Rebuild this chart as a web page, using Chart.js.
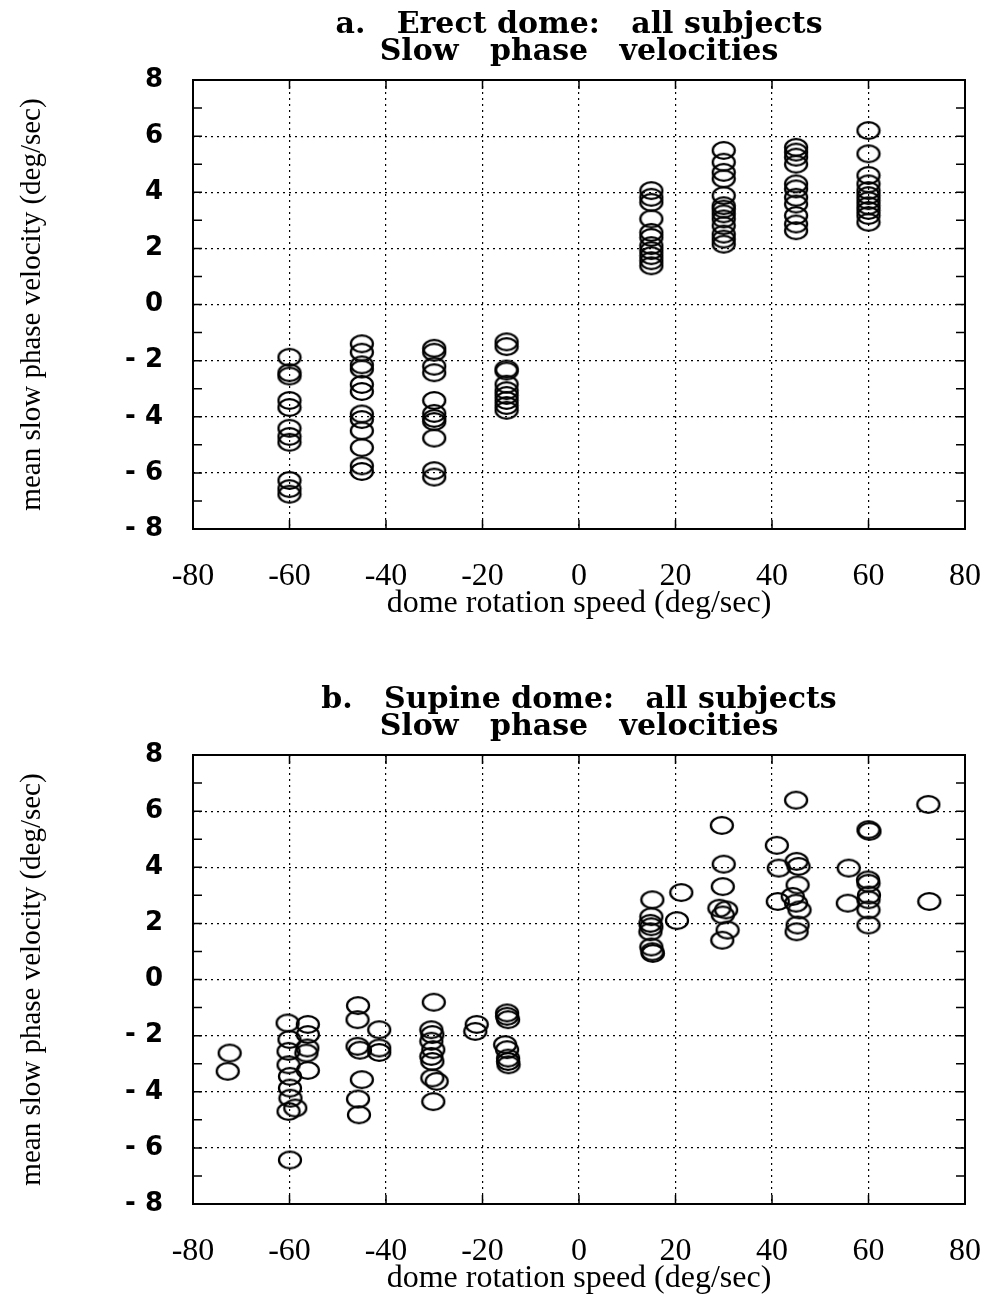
<!DOCTYPE html>
<html>
<head>
<meta charset="utf-8">
<script src="https://cdn.jsdelivr.net/npm/chart.js@4.4.0/dist/chart.umd.min.js"></script>
<style>
  html, body { margin: 0; background: #fff; overflow: hidden; }
  canvas { position: absolute; left: 0; }
  #erect { top: 0; }
  #supine { top: 675px; }
</style>
</head>
<body>
<canvas id="erect" width="1009" height="620"></canvas>
<canvas id="supine" width="1009" height="620"></canvas>
<script>
// erect dome: one column of subjects per rotation speed
const speeds = [-60, -45, -30, -15, 15, 30, 45, 60];
const erectM60 = [-1.88, -2.43, -2.55, -3.42, -3.67, -4.41, -4.70, -4.91, -6.27, -6.56, -6.76];
const erectM45 = [-1.4, -1.7, -2.15, -2.3, -2.85, -3.1, -3.9, -4.1, -4.5, -5.1, -5.75, -5.95];
const erectM30 = [-1.56, -1.7, -2.2, -2.43, -3.42, -3.88, -4.06, -4.17, -4.76, -5.92, -6.15];
const erectM15 = [-1.33, -1.5, -2.3, -2.37, -2.84, -3.07, -3.24, -3.42, -3.6, -3.77];
const erectP15 = [4.06, 3.82, 3.64, 3.05, 2.57, 2.39, 2.1, 1.92, 1.74, 1.56, 1.38];
const erectP30 = [5.49, 5.07, 4.71, 4.48, 3.88, 3.52, 3.4, 3.23, 3.05, 2.81, 2.51, 2.33, 2.15];
const erectP45 = [5.6, 5.43, 5.25, 5.0, 4.3, 4.12, 3.82, 3.58, 3.17, 2.87, 2.63];
const erectP60 = [6.2, 5.37, 4.6, 4.3, 4.06, 3.88, 3.7, 3.52, 3.35, 3.17, 2.93];

// supine dome: speeds are not exactly on the nominal values
const supineSpeed = [
  -72.4, -72.8,
  -60.4, -60, -60.2, -60.2, -59.9, -59.9, -59.8, -60.2, -58.8, -59.9,
  -56.2, -56.2, -56.3, -56.5, -56.2,
  -45.8, -45.9, -45.9, -45.4, -45, -45.8, -45.6,
  -41.4, -41.4, -41.4,
  -30.1, -30.6, -30.4, -30.6, -30.2, -30.6, -30.4, -30.4, -29.5, -30.2,
  -21.2, -21.5,
  -14.9, -14.9, -14.7, -15.3, -14.9, -14.7, -14.7, -14.6,
  15.2, 15, 14.8, 15, 14.8, 15, 15.2, 15.3,
  21.2, 20.3,
  29.6, 30, 29.8, 29.1, 30.5, 29.8, 30.8, 29.7,
  41, 41.4, 41.2,
  45, 45.1, 45.5, 45.3, 44.3, 45, 45.7, 45.3, 45.1,
  55.9, 55.7,
  60, 60.2, 59.9, 60, 60.1, 60, 60, 60,
  72.4, 72.6
];
const supineVel = [
  -2.62, -3.27,
  -1.55, -2.14, -2.56, -3.04, -3.45, -3.87, -4.23, -4.7, -4.58, -6.43,
  -1.6, -1.96, -2.44, -2.62, -3.24,
  -0.93, -1.43, -2.38, -2.52, -3.57, -4.26, -4.82,
  -1.79, -2.44, -2.6,
  -0.81, -1.79, -1.96, -2.2, -2.5, -2.74, -2.92, -3.51, -3.63, -4.35,
  -1.6, -1.85,
  -1.19, -1.31, -1.43, -2.32, -2.5, -2.8, -2.92, -3.04,
  2.84, 2.24, 2.0, 1.88, 1.7, 1.16, 0.99, 0.93,
  3.1, 2.1,
  5.49, 4.11, 3.31, 2.54, 2.48, 2.3, 1.76, 1.4,
  4.78, 3.97, 2.78,
  6.39, 4.21, 4.03, 3.37, 2.96, 2.72, 2.48, 1.94, 1.7,
  3.97, 2.72,
  5.34, 5.28, 3.55, 3.43, 3.01, 2.84, 2.48, 1.94,
  6.24, 2.78
];

const erectCols = [erectM60, erectM45, erectM30, erectM15, erectP15, erectP30, erectP45, erectP60];
const erectPoints = [];
erectCols.forEach((col, i) => col.forEach(v => erectPoints.push({x: speeds[i], y: v})));
const supinePoints = supineSpeed.map((s, i) => ({x: s, y: supineVel[i]}));

// open oval marker like the original plot
function ring() {
  const c = document.createElement('canvas');
  c.width = 26; c.height = 21;
  const g = c.getContext('2d');
  g.lineWidth = 2.3;
  g.strokeStyle = '#000';
  g.beginPath();
  g.ellipse(13, 10.5, 11, 8.4, 0, 0, Math.PI * 2);
  g.stroke();
  return c;
}
const marker = ring();

// box and inward tick marks
const frame = {
  id: 'frame',
  afterDraw(chart) {
    const {ctx, chartArea: a, scales: {x, y}} = chart;
    ctx.save();
    ctx.strokeStyle = '#000';
    ctx.lineWidth = 2;
    ctx.strokeRect(a.left, a.top, a.right - a.left, a.bottom - a.top);
    ctx.lineWidth = 1.5;
    ctx.beginPath();
    y.ticks.forEach(t => {
      const p = y.getPixelForValue(t.value);
      ctx.moveTo(a.left, p); ctx.lineTo(a.left + 9, p);
      ctx.moveTo(a.right, p); ctx.lineTo(a.right - 9, p);
    });
    x.ticks.forEach(t => {
      const p = x.getPixelForValue(t.value);
      ctx.moveTo(p, a.top); ctx.lineTo(p, a.top + 9);
      ctx.moveTo(p, a.bottom); ctx.lineTo(p, a.bottom - 9);
    });
    ctx.stroke();
    ctx.restore();
  }
};

Chart.defaults.color = '#000';

function makeChart(id, title, points) {
  return new Chart(id, {
    type: 'scatter',
    data: {
      datasets: [{
        data: points,
        pointStyle: marker,
        pointRadius: 11,
      }],
    },
    options: {
      responsive: false,
      animation: false,
      events: [],
      layout: { padding: { left: 0, right: 0, top: 0, bottom: 0 } },
      plugins: {
        legend: { display: false },
        tooltip: { enabled: false },
        title: {
          display: true,
          fullSize: false,
          text: title,
          color: '#000',
          font: { family: 'DejaVu Serif', size: 30, weight: 'bold', lineHeight: 0.9 },
          padding: { top: 12, bottom: 14 },
        },
      },
      scales: {
        x: {
          type: 'linear',
          min: -80, max: 80,
          afterFit: s => { s.height = 91; },
          ticks: { stepSize: 20, padding: 28, font: { family: 'Liberation Serif', size: 32 } },
          grid: { color: '#000', lineWidth: 1.2, drawTicks: false },
          border: { display: false, dash: [2, 4] },
          title: {
            display: true,
            text: 'dome rotation speed (deg/sec)',
            font: { family: 'Liberation Serif', size: 32, lineHeight: 1.0 },
            padding: { top: 0, bottom: 0 },
          },
        },
        y: {
          min: -8, max: 8,
          afterFit: s => { s.width = 193; },
          ticks: {
            stepSize: 1,
            autoSkip: false,
            padding: 30,
            font: { family: 'DejaVu Sans', size: 26, weight: 'bold' },
            callback: v => (v % 2 !== 0 ? '' : (v < 0 ? '- ' + Math.abs(v) : String(v))),
          },
          grid: {
            color: c => (c.tick && c.tick.value % 2 === 0 ? '#000' : 'rgba(0,0,0,0)'),
            lineWidth: 1.2,
            drawTicks: false,
          },
          border: { display: false, dash: [2, 4] },
          title: {
            display: true,
            text: 'mean slow phase velocity (deg/sec)',
            font: { family: 'Liberation Serif', size: 29 },
            padding: { top: 15, bottom: 0 },
          },
        },
      },
    },
    plugins: [frame],
  });
}

makeChart('erect', ['a.   Erect dome:   all subjects', 'Slow   phase   velocities'], erectPoints);
makeChart('supine', ['b.   Supine dome:   all subjects', 'Slow   phase   velocities'], supinePoints);
</script>
</body>
</html>
